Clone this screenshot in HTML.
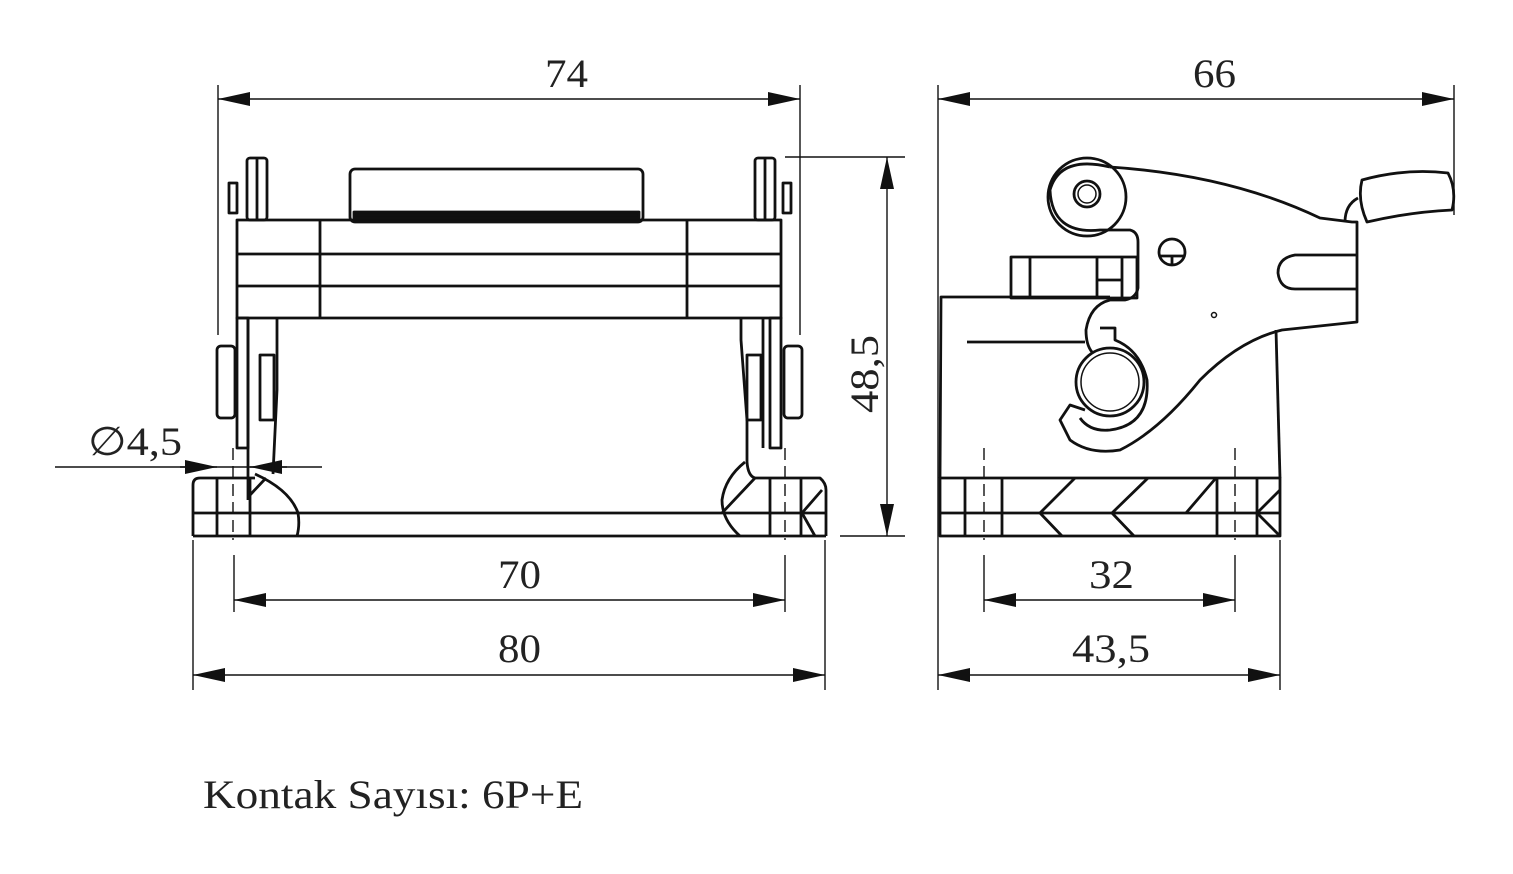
<!DOCTYPE html>
<html><head><meta charset="utf-8"><style>
html,body{margin:0;padding:0;background:#fff;}
svg{display:block;}
text{font-family:"Liberation Serif",serif;fill:#222;}
</style></head><body>
<svg width="1513" height="874" viewBox="0 0 1513 874" xmlns="http://www.w3.org/2000/svg">
<defs>
<marker id="a" viewBox="0 0 32 14" refX="32" refY="7" markerWidth="32" markerHeight="14" markerUnits="userSpaceOnUse" orient="auto-start-reverse"><path d="M0,0 L32,7 L0,14 Z" fill="#111"/></marker>
</defs>
<g stroke="#111" stroke-width="1.4" fill="none">
<line x1="218" y1="85" x2="218" y2="335"/><line x1="800" y1="85" x2="800" y2="335"/>
<line x1="218" y1="99" x2="800" y2="99" marker-start="url(#a)" marker-end="url(#a)"/>
<line x1="785" y1="157" x2="905" y2="157"/><line x1="840" y1="536" x2="905" y2="536"/>
<line x1="887" y1="157" x2="887" y2="536" marker-start="url(#a)" marker-end="url(#a)"/>
<line x1="193" y1="540" x2="193" y2="690"/><line x1="825" y1="540" x2="825" y2="690"/>
<line x1="234" y1="555" x2="234" y2="612"/><line x1="785" y1="555" x2="785" y2="612"/>
<line x1="234" y1="600" x2="785" y2="600" marker-start="url(#a)" marker-end="url(#a)"/>
<line x1="193" y1="675" x2="825" y2="675" marker-start="url(#a)" marker-end="url(#a)"/>
<line x1="55" y1="467" x2="322" y2="467"/>
<line x1="180" y1="467" x2="217" y2="467" marker-end="url(#a)"/>
<line x1="287" y1="467" x2="250" y2="467" marker-end="url(#a)"/>
<line x1="938" y1="85" x2="938" y2="690"/><line x1="1454" y1="85" x2="1454" y2="215"/>
<line x1="938" y1="99" x2="1454" y2="99" marker-start="url(#a)" marker-end="url(#a)"/>
<line x1="984" y1="555" x2="984" y2="612"/><line x1="1235" y1="555" x2="1235" y2="612"/>
<line x1="1280" y1="540" x2="1280" y2="690"/>
<line x1="984" y1="600" x2="1235" y2="600" marker-start="url(#a)" marker-end="url(#a)"/>
<line x1="938" y1="675" x2="1280" y2="675" marker-start="url(#a)" marker-end="url(#a)"/>
<line x1="233" y1="448" x2="233" y2="540" stroke-dasharray="12,6"/>
<line x1="785" y1="448" x2="785" y2="540" stroke-dasharray="12,6"/>
<line x1="984" y1="448" x2="984" y2="540" stroke-dasharray="12,6"/>
<line x1="1235" y1="448" x2="1235" y2="540" stroke-dasharray="12,6"/>
</g>
<g stroke="#111" stroke-width="2.8" fill="none" stroke-linejoin="round">
<!-- LEFT VIEW -->
<path d="M193,536 L193,485 Q193,478 200,478 L255,478"/>
<path d="M755,478 L820,478 Q826,483 826,490 L826,536"/>
<line x1="193" y1="536" x2="826" y2="536"/>
<line x1="193" y1="513" x2="826" y2="513"/>
<line x1="217" y1="478" x2="217" y2="536"/><line x1="250" y1="478" x2="250" y2="536"/>
<line x1="770" y1="478" x2="770" y2="536"/><line x1="801" y1="478" x2="801" y2="536"/>
<path d="M255,474 Q290,490 298,513 Q300,525 297,536"/>
<line x1="250" y1="495" x2="266" y2="478"/>
<path d="M745,462 Q725,478 722,500 Q722,520 740,536"/>
<line x1="722" y1="513" x2="755" y2="478"/>
<line x1="802" y1="513" x2="822" y2="490"/><line x1="802" y1="513" x2="815" y2="536"/>
<rect x="237" y="220" width="544" height="98"/>
<line x1="237" y1="254" x2="781" y2="254"/><line x1="237" y1="286" x2="781" y2="286"/>
<line x1="320" y1="220" x2="320" y2="318"/><line x1="687" y1="220" x2="687" y2="318"/>
<rect x="350" y="169" width="293" height="53" rx="5"/>
<rect x="354" y="212" width="285" height="6" fill="#111"/>
<rect x="247" y="158" width="20" height="62" rx="3"/><line x1="257" y1="158" x2="257" y2="220"/>
<rect x="229" y="183" width="8" height="30"/>
<rect x="755" y="158" width="20" height="62" rx="3"/><line x1="765" y1="158" x2="765" y2="220"/>
<rect x="783" y="183" width="8" height="30"/>
<rect x="237" y="318" width="11" height="130"/><line x1="248" y1="318" x2="248" y2="500"/>
<path d="M277,318 L277,390 L273,474"/>
<rect x="217" y="346" width="18" height="72" rx="4"/>
<rect x="260" y="355" width="14" height="65"/>
<rect x="770" y="318" width="11" height="130"/><line x1="763" y1="318" x2="763" y2="448"/>
<path d="M741,318 L741,340 L747,420 L747,462 Q748,476 755,478"/>
<rect x="784" y="346" width="18" height="72" rx="4"/>
<rect x="747" y="355" width="14" height="65"/>
<!-- RIGHT VIEW -->
<rect x="940" y="478" width="340" height="58"/>
<line x1="940" y1="513" x2="1280" y2="513"/>
<line x1="965" y1="478" x2="965" y2="536"/><line x1="1002" y1="478" x2="1002" y2="536"/>
<line x1="1217" y1="478" x2="1217" y2="536"/><line x1="1257" y1="478" x2="1257" y2="536"/>
<path d="M1075,478 L1040,513 L1062,536 M1148,478 L1112,513 L1134,536 M1216,478 L1186,513"/>
<path d="M1280,490 L1257,513 L1280,536"/>
<path d="M940,478 L941,297 L1110,297"/>
<line x1="1276" y1="330" x2="1280" y2="478"/>
<line x1="967" y1="342" x2="1085" y2="342"/>
<rect x="1011" y="257" width="126" height="41"/>
<line x1="1030" y1="257" x2="1030" y2="298"/>
<line x1="1097" y1="257" x2="1097" y2="298"/><line x1="1122" y1="257" x2="1122" y2="298"/>
<line x1="1097" y1="280" x2="1122" y2="280"/>
<path d="M1110,167 Q1230,175 1320,218 L1352,222 L1357,222 L1357,322 L1282,330 Q1240,340 1200,380 Q1160,430 1120,450 Q1090,455 1070,440 L1060,420 L1070,405 L1085,410"/>
<path d="M1110,167 Q1060,155 1050,190 Q1052,235 1100,230 L1130,230 Q1138,232 1138,242 L1138,288 Q1136,298 1125,300 L1110,300 Q1090,305 1086,330 Q1086,345 1092,352"/>
<path d="M1100,328 L1115,328 L1115,340 Q1140,350 1147,380 Q1150,425 1110,430 Q1090,432 1080,418"/>
<circle cx="1087" cy="197" r="39"/>
<circle cx="1087" cy="194" r="13"/><circle cx="1087" cy="194" r="9" stroke-width="1.5"/>
<circle cx="1110" cy="382" r="34"/>
<circle cx="1110" cy="382" r="29" stroke-width="1.5"/>
<circle cx="1172" cy="252" r="13"/><line x1="1160" y1="256" x2="1185" y2="256"/><line x1="1172" y1="256" x2="1172" y2="265"/>
<circle cx="1214" cy="315" r="2.5" stroke-width="1.5"/>
<path d="M1357,255 L1295,255 Q1278,258 1278,273 Q1280,289 1295,289 L1357,289"/>
<path d="M1345,222 Q1345,205 1358,198"/>
<path d="M1362,180 Q1405,168 1448,173 Q1457,190 1452,210 Q1410,212 1367,222 Q1357,200 1362,180 Z"/>
</g>
<text x="545" y="87" font-size="40" textLength="43" lengthAdjust="spacingAndGlyphs">74</text>
<text x="1193" y="87" font-size="40" textLength="43" lengthAdjust="spacingAndGlyphs">66</text>
<text x="498" y="588" font-size="40" textLength="43" lengthAdjust="spacingAndGlyphs">70</text>
<text x="498" y="662" font-size="40" textLength="43" lengthAdjust="spacingAndGlyphs">80</text>
<text x="1089" y="588" font-size="40" textLength="45" lengthAdjust="spacingAndGlyphs">32</text>
<text x="1072" y="662" font-size="40" textLength="78" lengthAdjust="spacingAndGlyphs">43,5</text>
<text x="0" y="0" font-size="40" transform="translate(878,413) rotate(-90)" textLength="78" lengthAdjust="spacingAndGlyphs">48,5</text>
<text x="88" y="455" font-size="40" textLength="94" lengthAdjust="spacingAndGlyphs">∅4,5</text>
<text x="203" y="808" font-size="40" textLength="380" lengthAdjust="spacingAndGlyphs">Kontak Sayısı: 6P+E</text>
</svg>
</body></html>
